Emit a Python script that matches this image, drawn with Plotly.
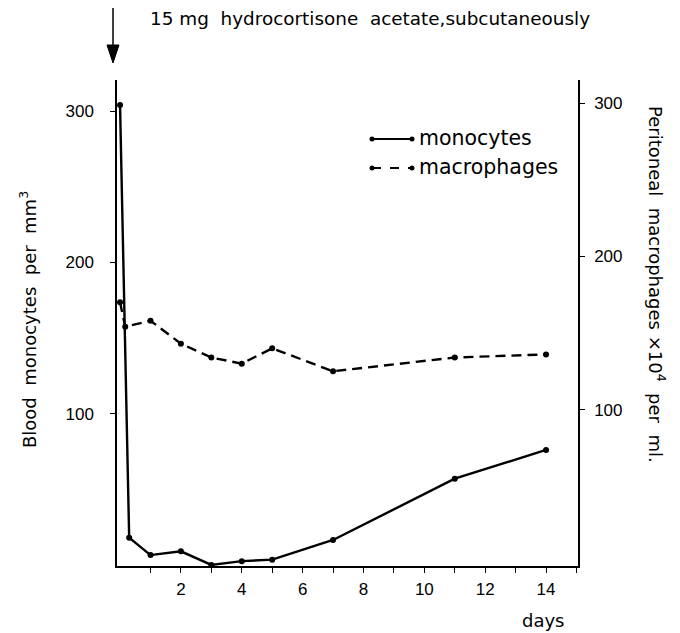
import plotly.graph_objects as go

# ---- data ----
mono_days = [0, 0.3, 1, 2, 3, 4, 5, 7, 11, 14]
monocytes = [304, 18, 6.5, 9, 0, 2.5, 3.5, 16.5, 57, 76]
macro_days = [0, 0.17, 1, 2, 3, 4, 5, 7, 11, 14]
macrophages = [170, 154, 158, 143, 134, 130, 140, 125, 134, 136]
x_tickvals = [2, 4, 6, 8, 10, 12, 14]
y_ticks = [100, 200, 300]

TXT = "DejaVu Sans"
NUM = "Liberation Sans"
# page body has an 8px margin, so the figure is 8px smaller than the window
W, H = 672, 625
L, R, T, B = 109, 102, 72, 67  # plot area in window: x 117..578, y 80..566
PW, PH = W - L - R, H - T - B


def px(x):  # window pixel -> paper
    return (x - 8 - L) / PW


def py(y):
    return (H - B - (y - 8)) / PH


fig = go.Figure()
fig.add_trace(go.Scatter(
    x=mono_days, y=monocytes, mode="lines+markers", name="monocytes",
    line=dict(color="black", width=2.4),
    marker=dict(color="black", size=6), yaxis="y", showlegend=False))
fig.add_trace(go.Scatter(
    x=macro_days, y=macrophages, mode="lines+markers", name="macrophages",
    line=dict(color="black", width=2.4, dash="10px,6px"),
    marker=dict(color="black", size=6), yaxis="y2", showlegend=False))

axis_common = dict(showgrid=False, zeroline=False, showline=True,
                   linecolor="black", linewidth=1.5, ticks="outside",
                   ticklen=5, tickwidth=1.2, tickcolor="black",
                   tickfont=dict(family=NUM, size=17, color="black"))

fig.update_layout(
    width=W, height=H, margin=dict(l=L, r=R, t=T, b=B, autoexpand=False),
    paper_bgcolor="white", plot_bgcolor="white",
    font=dict(family=TXT, size=18, color="black"),
    xaxis=dict(range=[-0.1, 15.05], tickvals=x_tickvals,
               ticklabelstandoff=2,
               minor=dict(tick0=1, dtick=2, ticks="outside", ticklen=5,
                          tickwidth=1.2, tickcolor="black"),
               **axis_common),
    yaxis=dict(range=[-0.7, 320.5], tickvals=y_ticks, ticklabelstandoff=13,
               **axis_common),
    yaxis2=dict(range=[-2, 315], tickvals=y_ticks, overlaying="y",
                side="right", ticklabelstandoff=6, **axis_common),
)

ann = []
# top label
ann.append(dict(x=px(370), y=py(18), xref="paper", yref="paper",
                text="15 mg  hydrocortisone  acetate,subcutaneously",
                showarrow=False, xanchor="center", yanchor="middle",
                font=dict(family=TXT, size=18.4)))
# axis titles
ann.append(dict(x=px(28), y=py(320), xref="paper", yref="paper",
                text="Blood  monocytes  per  mm<sup>3</sup>", textangle=-90,
                showarrow=False, xanchor="center", yanchor="middle",
                font=dict(family=TXT, size=18)))
ann.append(dict(x=px(657), y=py(284), xref="paper", yref="paper",
                text="Peritoneal  macrophages \u00d710<sup>4</sup>  per  ml.",
                textangle=90, showarrow=False, xanchor="center",
                yanchor="middle", font=dict(family=TXT, size=18)))
ann.append(dict(x=px(543), y=py(620), xref="paper", yref="paper",
                text="days", showarrow=False, xanchor="center",
                yanchor="middle", font=dict(family=TXT, size=18)))
# legend texts
ann.append(dict(x=px(417), y=py(138), xref="paper", yref="paper",
                text="monocytes", showarrow=False, xanchor="left",
                yanchor="middle", font=dict(family=TXT, size=20.5)))
ann.append(dict(x=px(417), y=py(167), xref="paper", yref="paper",
                text="macrophages", showarrow=False, xanchor="left",
                yanchor="middle", font=dict(family=TXT, size=20.5)))

shapes = []
# injection arrow (shaft + head)
shapes.append(dict(type="line", xref="paper", yref="paper",
                   x0=px(113), x1=px(113), y0=py(8), y1=py(55),
                   line=dict(color="black", width=1.5)))
shapes.append(dict(type="path", xref="paper", yref="paper",
                   path=f"M {px(107)},{py(45)} L {px(119)},{py(45)} "
                        f"L {px(113)},{py(63)} Z",
                   fillcolor="black", line=dict(color="black", width=1)))
for yy, dash in [(139, "solid"), (168, "dash")]:
    shapes.append(dict(type="line", xref="paper", yref="paper",
                       x0=px(372), x1=px(412), y0=py(yy), y1=py(yy),
                       line=dict(color="black", width=2, dash=dash)))
    for xx in (372, 412):
        shapes.append(dict(type="circle", xref="paper", yref="paper",
                           x0=px(xx - 2.5), x1=px(xx + 2.5),
                           y0=py(yy + 2.5), y1=py(yy - 2.5),
                           fillcolor="black", line=dict(color="black", width=0)))

fig.update_layout(annotations=ann, shapes=shapes)
fig.write_html("out.html")
